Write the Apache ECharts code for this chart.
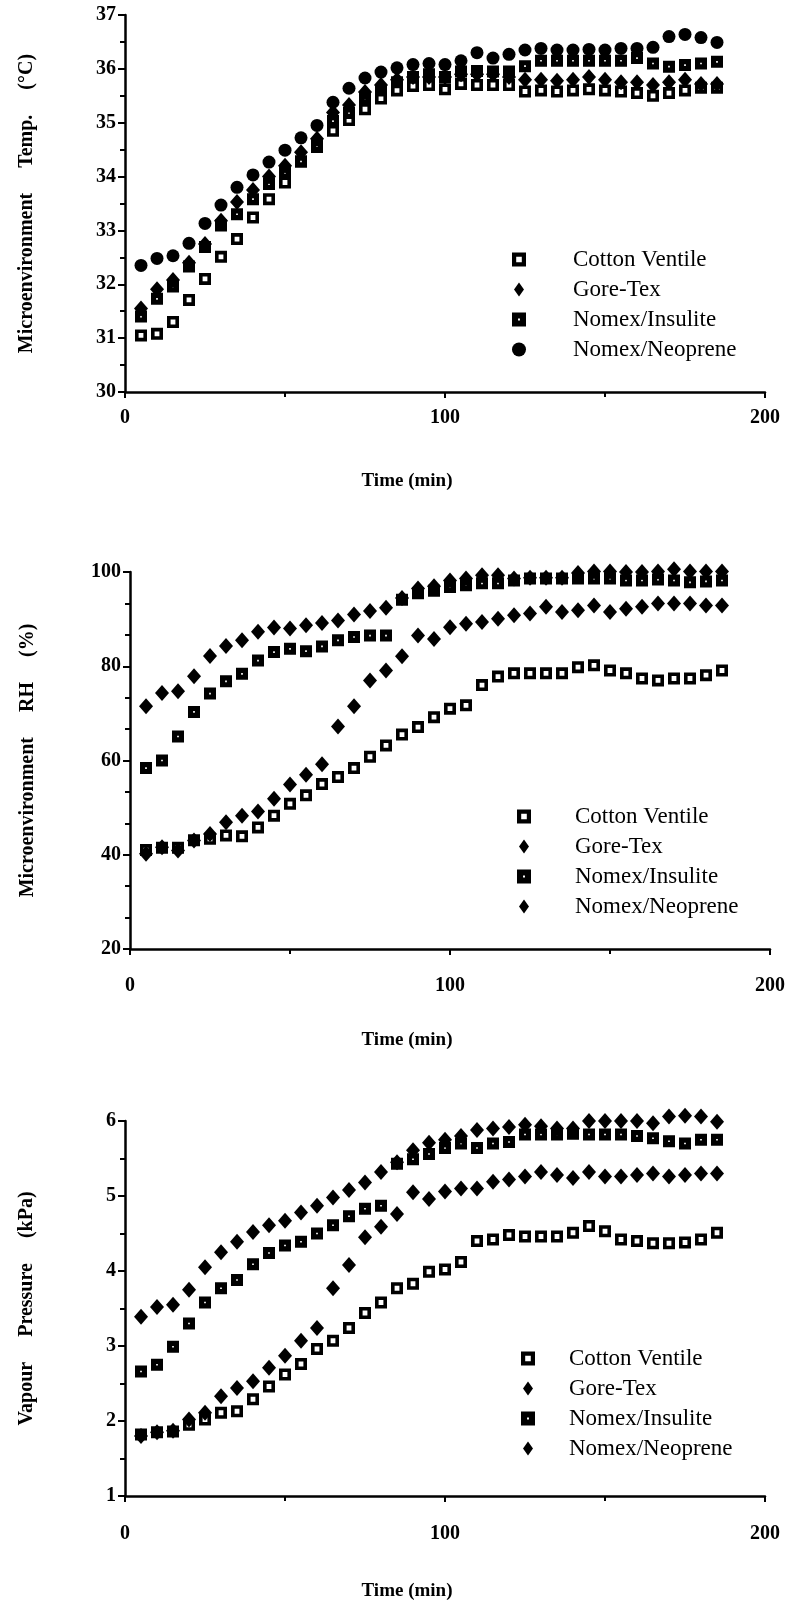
<!DOCTYPE html>
<html><head><meta charset="utf-8">
<script src="https://cdn.jsdelivr.net/npm/echarts@6/dist/echarts.min.js"></script>
<style>html,body{margin:0;padding:0;background:#fff}#c{width:789px;height:1602px}</style>
</head><body><div id="c"></div>
<script>
// ---- data ----
const times = [5,10,15,20,25,30,35,40,45,50,55,60,65,70,75,80,85,90,95,100,105,110,115,120,125,130,135,140,145,150,155,160,165,170,175,180,185];
const seriesNames = ['Cotton Ventile','Gore-Tex','Nomex/Insulite','Nomex/Neoprene'];

// Panel 1: Microenvironment Temp (°C)
const tempCotton = [31.05,31.08,31.3,31.71,32.1,32.51,32.84,33.24,33.58,33.89,34.28,34.6,34.85,35.05,35.25,35.45,35.6,35.68,35.7,35.62,35.72,35.7,35.7,35.7,35.58,35.6,35.58,35.6,35.62,35.6,35.58,35.55,35.5,35.55,35.6,35.65,35.65];
const tempGore = [31.55,31.91,32.08,32.4,32.75,33.18,33.53,33.75,34.0,34.2,34.45,34.7,35.19,35.33,35.57,35.7,35.8,35.85,35.85,35.85,35.9,35.9,35.9,35.85,35.8,35.8,35.78,35.8,35.85,35.8,35.75,35.75,35.7,35.75,35.8,35.72,35.72];
const tempInsulite = [31.4,31.73,31.96,32.33,32.69,33.09,33.3,33.58,33.86,34.07,34.28,34.55,35.03,35.18,35.45,35.6,35.75,35.85,35.9,35.85,35.95,35.96,35.95,35.95,36.05,36.15,36.15,36.15,36.15,36.15,36.15,36.2,36.1,36.04,36.07,36.1,36.13];
const tempNeoprene = [32.35,32.48,32.53,32.76,33.13,33.47,33.8,34.03,34.27,34.49,34.72,34.95,35.38,35.64,35.83,35.94,36.02,36.08,36.1,36.08,36.15,36.3,36.2,36.27,36.35,36.38,36.35,36.35,36.36,36.35,36.38,36.38,36.4,36.6,36.64,36.58,36.49];

// Panel 2: Microenvironment RH (%)
const rhCotton = [41.0,41.5,41.5,43.1,43.4,44.1,43.9,45.8,48.3,50.8,52.6,55.0,56.5,58.4,60.8,63.2,65.5,67.1,69.2,71.0,71.7,76.0,77.8,78.5,78.5,78.5,78.5,79.8,80.2,79.1,78.5,77.4,77.0,77.4,77.4,78.1,79.1];
const rhGore = [40.2,41.6,40.9,43.0,44.4,46.9,48.3,49.2,51.9,54.9,57.0,59.2,67.2,71.5,77.0,79.1,82.1,86.5,85.8,88.3,89.0,89.4,90.1,90.8,91.2,92.6,91.5,91.9,92.9,91.5,92.2,92.6,93.3,93.3,93.3,92.9,92.9];
const rhInsulite = [58.4,60.0,65.1,70.3,74.2,76.8,78.4,81.2,83.0,83.7,83.2,84.2,85.5,86.2,86.5,86.5,94.1,95.5,96.0,96.8,97.2,97.6,97.6,98.2,98.6,98.6,98.6,98.6,98.6,98.6,98.2,98.2,98.4,98.2,97.8,98.0,98.2];
const rhNeoprene = [71.5,74.3,74.7,77.9,82.2,84.3,85.5,87.3,88.2,88.0,88.7,89.2,89.7,91.0,91.7,92.4,94.5,96.5,97.0,98.2,98.6,99.3,99.3,98.6,98.8,98.8,98.8,99.8,100.1,100.1,100.0,100.0,100.1,100.6,100.1,100.1,100.1];

// Panel 3: Vapour Pressure (kPa)
const vpCotton = [1.82,1.85,1.86,1.95,2.02,2.11,2.13,2.29,2.46,2.62,2.76,2.96,3.07,3.24,3.44,3.58,3.77,3.83,3.99,4.02,4.12,4.4,4.42,4.48,4.46,4.46,4.46,4.51,4.6,4.53,4.42,4.4,4.37,4.37,4.38,4.42,4.51];
const vpGore = [1.8,1.85,1.87,2.02,2.11,2.33,2.44,2.53,2.71,2.87,3.07,3.24,3.77,4.08,4.45,4.59,4.76,5.05,4.96,5.06,5.1,5.1,5.19,5.22,5.26,5.32,5.28,5.24,5.32,5.26,5.26,5.28,5.3,5.26,5.28,5.3,5.3];
const vpInsulite = [2.66,2.75,2.99,3.3,3.58,3.77,3.88,4.09,4.24,4.34,4.39,4.5,4.61,4.73,4.83,4.87,5.43,5.49,5.56,5.64,5.7,5.64,5.7,5.72,5.82,5.82,5.82,5.83,5.82,5.82,5.82,5.8,5.77,5.73,5.7,5.75,5.75];
const vpNeoprene = [3.39,3.52,3.55,3.75,4.05,4.25,4.39,4.52,4.61,4.67,4.78,4.87,4.98,5.08,5.18,5.32,5.45,5.61,5.71,5.75,5.8,5.88,5.9,5.92,5.95,5.93,5.9,5.9,6.0,6.0,6.0,6.0,5.97,6.06,6.07,6.06,5.99];

const xTicks = [0,100,200];
// ---- chart ----
const FONT = 'Liberation Serif';
const OPEN_SQ = 'path://M0,0L10,0L10,10L0,10Z M3,3L3,7L7,7L7,3Z';
const FILL_SQ = 'path://M0,0L10,0L10,10L0,10Z M4.3,4.3L4.3,5.7L5.7,5.7L5.7,4.3Z';
const DIAM = 'path://M5,0L10,7L5,14L0,7Z';
const CIRC = 'path://M7,0A7,7 0 1 1 6.99,0Z';

const panels = [
  {left:125, top:15, height:377, ymin:30, ymax:37, yint:1, ysplit:2, yname:'Microenvironment     Temp.     (°C)', ygap:88, xgap:80, xpad:76, xmargin:16,
   data:[tempCotton,tempGore,tempInsulite,tempNeoprene], neo:'circle',
   legend:{left:507, top:243, w:98}},
  {left:130, top:572, height:377, ymin:20, ymax:100, yint:20, ysplit:3, yname:'Microenvironment     RH     (%)', ygap:92, xgap:82, xpad:86, xmargin:27,
   data:[rhCotton,rhGore,rhInsulite,rhNeoprene], neo:'diamond',
   legend:{left:512, top:800, w:92}},
  {left:125, top:1121, height:377, ymin:1, ymax:6, yint:1, ysplit:2, yname:'Vapour     Pressure     (kPa)', ygap:88, xgap:86, xpad:76, xmargin:28,
   data:[vpCotton,vpGore,vpInsulite,vpNeoprene], neo:'diamond',
   legend:{left:516, top:1342, w:72}}
];

const grid=[], xAxis=[], yAxis=[], series=[], legend=[];
const axisLine = {show:true, lineStyle:{color:'#000', width:2.5}};
panels.forEach((p,i)=>{
  grid.push({left:p.left, top:p.top, width:640, height:p.height, containLabel:false});
  xAxis.push({type:'value', gridIndex:i, min:0, max:200, interval:100,
    axisLine, axisTick:{show:true, length:6, inside:false, lineStyle:{color:'#000', width:2}},
    minorTick:{show:true, splitNumber:2, length:5, lineStyle:{color:'#000', width:2}},
    splitLine:{show:false},
    axisLabel:{color:'#000', fontFamily:FONT, fontWeight:'bold', fontSize:20, margin:p.xmargin,
      formatter:v=>xTicks.includes(v)?String(v):''},
    name:'Time (min)', nameLocation:'middle', nameGap:p.xgap,
    nameTextStyle:{color:'#000', fontFamily:FONT, fontWeight:'bold', fontSize:19, padding:[0,p.xpad,0,0]}});
  yAxis.push({type:'value', gridIndex:i, min:p.ymin, max:p.ymax, interval:p.yint,
    axisLine, axisTick:{show:true, length:7, lineStyle:{color:'#000', width:2}},
    minorTick:{show:true, splitNumber:p.ysplit, length:5, lineStyle:{color:'#000', width:2}},
    splitLine:{show:false},
    axisLabel:{color:'#000', fontFamily:FONT, fontWeight:'bold', fontSize:20, margin:9},
    name:p.yname, nameLocation:'middle', nameGap:p.ygap, nameRotate:90,
    nameTextStyle:{color:'#000', fontFamily:FONT, fontWeight:'bold', fontSize:20}});
  const syms = [OPEN_SQ,'diamond',FILL_SQ,p.neo];
  const legSyms = [OPEN_SQ,DIAM,FILL_SQ,p.neo==='circle'?CIRC:DIAM];
  const sizes = [[12,12],[14,16],[12,12],p.neo==='circle'?[13,13]:[14,16]];
  seriesNames.forEach((n,k)=>{
    series.push({type:'scatter', name:n, xAxisIndex:i, yAxisIndex:i, clip:false,
      symbol:syms[k], symbolSize:sizes[k], itemStyle:{color:'#000', opacity:1},
      data:times.map((t,j)=>[t,p.data[k][j]])});
  });
  legend.push({orient:'vertical', left:p.legend.left, top:p.legend.top, selectedMode:false,
    itemWidth:p.legend.w, itemHeight:14, itemGap:7,
    textStyle:{color:'#000', fontFamily:FONT, fontSize:23},
    data:seriesNames.map((n,k)=>({name:n, icon:legSyms[k], itemStyle:{color:'#000'}}))});
});

const chart = echarts.init(document.getElementById('c'), null, {renderer:'canvas'});
chart.setOption({animation:false, backgroundColor:'#fff', grid, xAxis, yAxis, series, legend});
</script></body></html>
